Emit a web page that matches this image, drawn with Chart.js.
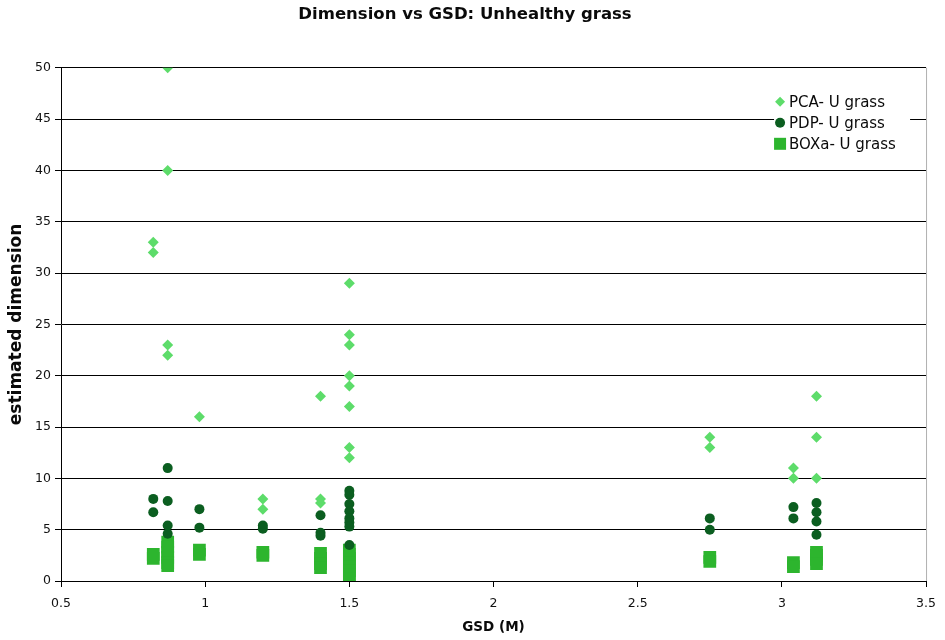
<!DOCTYPE html>
<html>
<head>
<meta charset="utf-8">
<script src="https://cdn.jsdelivr.net/npm/chart.js@4.4.1/dist/chart.umd.min.js"></script>
<style>
  body { margin: 0; background: #fff; }
</style>
</head>
<body>
<canvas id="scatter-chart" width="945" height="640"></canvas>
<script>
// GSD (M) et dimension estimée, une paire de tableaux par méthode
var pcaGsd = [0.82, 0.82, 0.87, 0.87, 0.87, 0.87, 0.98, 1.2, 1.2, 1.4, 1.4, 1.4,
  1.5, 1.5, 1.5, 1.5, 1.5, 1.5, 1.5, 1.5, 2.75, 2.75, 3.04, 3.04, 3.12, 3.12, 3.12];
var pcaDim = [33, 32, 50, 40, 23, 22, 16, 8, 7, 18, 8, 7.6,
  29, 24, 23, 20, 19, 17, 13, 12, 14, 13, 11, 10, 18, 14, 10];

var pdpGsd = [0.82, 0.82, 0.87, 0.87, 0.87, 0.87, 0.98, 0.98, 1.2, 1.2, 1.4, 1.4, 1.4,
  1.5, 1.5, 1.5, 1.5, 1.5, 1.5, 1.5, 1.5, 2.75, 2.75, 3.04, 3.04, 3.12, 3.12, 3.12, 3.12];
var pdpDim = [8, 6.7, 11, 7.8, 5.4, 4.6, 7, 5.2, 5.4, 5.1, 6.4, 4.7, 4.4,
  8.8, 8.4, 7.5, 6.8, 6.1, 5.7, 5.3, 3.5, 6.1, 5, 7.2, 6.1, 7.6, 6.7, 5.8, 4.5];

var boxGsd = [0.82, 0.82, 0.87, 0.87, 0.87, 0.87, 0.87, 0.87, 0.98, 0.98, 1.2, 1.2,
  1.4, 1.4, 1.4, 1.4, 1.5, 1.5, 1.5, 1.5, 1.5, 1.5, 1.5, 1.5,
  2.75, 2.75, 3.04, 3.04, 3.12, 3.12, 3.12, 3.12];
var boxDim = [2.6, 2.2, 3.8, 3.3, 2.8, 2.3, 1.8, 1.5, 3, 2.6, 2.8, 2.5,
  2.7, 2.2, 1.7, 1.3, 3, 2.6, 2.2, 1.8, 1.4, 1, 0.6, 0.2,
  2.3, 1.9, 1.8, 1.4, 2.8, 2.5, 2.1, 1.7];

var seriesNames = ['PCA- U grass', 'PDP- U grass', 'BOXa- U grass'];

function toPoints(xs, ys) {
  return xs.map(function (x, i) { return { x: x, y: ys[i] }; });
}

// légende dessinée dans la zone du graphique, comme l'original
var insideLegend = {
  id: 'insideLegend',
  afterDraw: function (chart) {
    var ctx = chart.ctx;
    var area = chart.chartArea;
    ctx.save();
    // bord droit gris
    ctx.strokeStyle = '#b0b0b0';
    ctx.lineWidth = 1;
    ctx.beginPath();
    ctx.moveTo(area.right + 0.5, area.top);
    ctx.lineTo(area.right + 0.5, area.bottom);
    ctx.stroke();

    ctx.fillStyle = '#fff';
    ctx.fillRect(area.right - 152, area.top + 21, 136, 65);
    ctx.font = '15px "DejaVu Sans", Verdana, sans-serif';
    ctx.textBaseline = 'middle';
    chart.data.datasets.forEach(function (ds, i) {
      var x = area.right - 146;
      var y = area.top + 34 + i * 21;
      ctx.fillStyle = ds.backgroundColor;
      ctx.beginPath();
      if (ds.pointStyle === 'rectRot') {
        ctx.moveTo(x, y - 5); ctx.lineTo(x + 5, y); ctx.lineTo(x, y + 5); ctx.lineTo(x - 5, y);
        ctx.closePath();
      } else if (ds.pointStyle === 'circle') {
        ctx.arc(x, y, 5, 0, Math.PI * 2);
      } else {
        ctx.rect(x - 6, y - 6, 12, 12);
      }
      ctx.fill();
      ctx.fillStyle = '#0a0a0a';
      ctx.fillText(ds.label, x + 9, y + 1);
    });
    ctx.restore();
  }
};

var ctx = document.getElementById('scatter-chart').getContext('2d');
var scatterChart = new Chart(ctx, {
  type: 'scatter',
  data: {
    datasets: [{
      label: seriesNames[0],
      data: toPoints(pcaGsd, pcaDim),
      pointStyle: 'rectRot',
      pointRadius: 5.5,
      backgroundColor: '#5ddc6a',
      borderWidth: 0
    }, {
      label: seriesNames[1],
      data: toPoints(pdpGsd, pdpDim),
      pointStyle: 'circle',
      pointRadius: 5,
      backgroundColor: '#0b5e20',
      borderWidth: 0
    }, {
      label: seriesNames[2],
      data: toPoints(boxGsd, boxDim),
      pointStyle: 'rect',
      pointRadius: 9,
      backgroundColor: '#2db52e',
      borderWidth: 0
    }]
  },
  options: {
    responsive: false,
    animation: false,
    layout: { padding: { left: 0, right: 15, top: 0, bottom: 0 } },
    plugins: {
      legend: { display: false },
      tooltip: { enabled: false },
      title: {
        display: true,
        text: 'Dimension vs GSD: Unhealthy grass',
        color: '#0a0a0a',
        font: { family: '"DejaVu Sans", Verdana, sans-serif', size: 16.5, weight: 'bold' },
        padding: { top: 5, bottom: 43 }
      }
    },
    scales: {
      x: {
        type: 'linear',
        min: 0.5,
        max: 3.5,
        afterFit: function (scale) { scale.height = 59; },
        ticks: {
          stepSize: 0.5,
          color: '#111',
          padding: 9,
          font: { family: '"DejaVu Sans", Verdana, sans-serif', size: 12.5 },
          callback: function (value) { return value; }
        },
        grid: { drawOnChartArea: false, color: '#000', tickLength: 6 },
        border: { color: '#000' },
        title: {
          display: true,
          text: 'GSD (M)',
          color: '#0a0a0a',
          padding: { top: 4, bottom: 4 },
          font: { family: '"DejaVu Sans", Verdana, sans-serif', size: 13.5, weight: 'bold' }
        }
      },
      y: {
        min: 0,
        max: 50,
        afterFit: function (scale) { scale.width = 61; },
        ticks: {
          stepSize: 5,
          color: '#111',
          padding: 4,
          font: { family: '"DejaVu Sans", Verdana, sans-serif', size: 12.5 }
        },
        grid: { color: '#000', tickLength: 6 },
        border: { color: '#000' },
        title: {
          display: true,
          text: 'estimated dimension',
          color: '#0a0a0a',
          padding: { top: 6, bottom: 4 },
          font: { family: '"DejaVu Sans", Verdana, sans-serif', size: 17, weight: 'bold' }
        }
      }
    }
  },
  plugins: [insideLegend]
});
</script>
</body>
</html>
